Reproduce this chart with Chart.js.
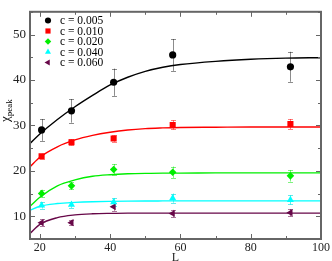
<!DOCTYPE html>
<html><head><meta charset="utf-8">
<script src="https://cdn.jsdelivr.net/npm/chart.js@4/dist/chart.umd.min.js"></script>
<style>html,body{margin:0;padding:0;background:#fff}#wrap{width:332px;height:261px;position:relative}</style>
</head><body><div id="wrap"><canvas id="c"></canvas></div>
<script>
// ---- data ----
const Lvals = [20.5, 29, 41, 57.8, 91.3];
const seriesLabels = ['c = 0.005', 'c = 0.010', 'c = 0.020', 'c = 0.040', 'c = 0.060'];
const chi005 = [29.0, 33.2, 39.5, 45.5, 42.9];
const err005 = [2.4, 2.6, 3.0, 3.5, 3.3];
const chi010 = [23.2, 26.3, 27.1, 30.1, 30.3];
const err010 = [0.6, 0.7, 0.7, 1.0, 1.1];
const chi020 = [15.0, 16.7, 20.3, 19.7, 18.9];
const err020 = [0.85, 0.8, 1.2, 1.25, 1.25];
const chi040 = [12.4, 12.55, 13.1, 14.0, 13.6];
const err040 = [0.7, 0.7, 0.9, 1.0, 1.0];
const chi060 = [8.6, 8.6, 12.1, 10.6, 10.8];
const err060 = [0.7, 0.6, 0.9, 0.8, 0.8];
const fitL   = [17.2, 20, 25, 30, 35, 40, 45, 50, 55, 60, 70, 80, 90, 100];
const fit005 = [26.0, 28.1, 31.3, 34.1, 36.6, 38.9, 40.6, 41.9, 42.8, 43.4, 44.1, 44.55, 44.8, 44.9];
const fit010 = [20.9, 23.0, 25.3, 26.8, 27.8, 28.5, 29.0, 29.3, 29.45, 29.55, 29.6, 29.65, 29.65, 29.65];
const fit020 = [12.2, 14.2, 16.7, 18.0, 18.8, 19.15, 19.35, 19.45, 19.5, 19.5, 19.55, 19.55, 19.55, 19.55];
const fit040 = [11.3, 12.2, 12.8, 13.05, 13.2, 13.28, 13.33, 13.36, 13.38, 13.4, 13.4, 13.4, 13.4, 13.4];
const fit060 = [6.2, 8.2, 9.7, 10.3, 10.55, 10.65, 10.7, 10.7, 10.7, 10.7, 10.7, 10.7, 10.7, 10.7];
const xTicks = [20, 40, 60, 80, 100];
const xMinor = [30, 50, 70, 90];
const yTicks = [10, 20, 30, 40, 50];
const yMinor = [5, 15, 25, 35, 45, 55];

const colors = ['#000000', '#ff0000', '#00ee00', '#00ffff', 'rgb(103,7,72)'];
const errColors = ['rgba(0,0,0,0.45)', 'rgba(255,0,0,0.5)', 'rgba(0,230,0,0.5)', 'rgba(0,220,220,0.6)', 'rgba(103,7,72,0.55)'];
const styles = [
  {pointStyle: 'circle', radius: 3.6, rotation: 0},
  {pointStyle: 'rect', radius: 4.3, rotation: 0},
  {pointStyle: 'rectRot', radius: 3.8, rotation: 0},
  {pointStyle: 'triangle', radius: 4.1, rotation: 0},
  {pointStyle: 'triangle', radius: 4.1, rotation: -90}
];
const pts = [chi005, chi010, chi020, chi040, chi060];
const errs = [err005, err010, err020, err040, err060];
const fits = [fit005, fit010, fit020, fit040, fit060];

const datasets = [];
fits.forEach((f, k) => datasets.push({
  label: 'fit' + k, data: fitL.map((x, i) => ({x, y: f[i]})), showLine: true,
  borderColor: colors[k], borderWidth: 1.4, pointRadius: 0, tension: 0.4,
  cubicInterpolationMode: 'monotone', order: 2
}));
pts.forEach((p, k) => datasets.push({
  label: seriesLabels[k], data: Lvals.map((x, i) => ({x, y: p[i]})), showLine: false,
  backgroundColor: colors[k], borderColor: colors[k], borderWidth: 0,
  pointStyle: styles[k].pointStyle, pointRadius: styles[k].radius, pointRotation: styles[k].rotation,
  order: 1
}));

const deco = {
  id: 'deco',
  beforeDatasetsDraw(chart) {
    const ctx = chart.ctx, xs = chart.scales.x, ys = chart.scales.y;
    ctx.save();
    ctx.lineWidth = 1;
    pts.forEach((p, k) => {
      ctx.strokeStyle = errColors[k];
      p.forEach((v, i) => {
        const x = Math.round(xs.getPixelForValue(Lvals[i])) + 0.5;
        const y1 = ys.getPixelForValue(v - errs[k][i]);
        const y2 = ys.getPixelForValue(v + errs[k][i]);
        ctx.beginPath();
        ctx.moveTo(x, y1); ctx.lineTo(x, y2);
        ctx.moveTo(x - 2.5, Math.round(y1) + 0.5); ctx.lineTo(x + 2.5, Math.round(y1) + 0.5);
        ctx.moveTo(x - 2.5, Math.round(y2) + 0.5); ctx.lineTo(x + 2.5, Math.round(y2) + 0.5);
        ctx.stroke();
      });
    });
    ctx.restore();
  },
  afterDraw(chart) {
    const ctx = chart.ctx, xs = chart.scales.x, ys = chart.scales.y, a = chart.chartArea;
    ctx.save();
    ctx.strokeStyle = '#666';
    ctx.lineWidth = 1;
    ctx.beginPath();
    const tick = (vals, len) => {
      vals.forEach(v => {
        const x = Math.round(xs.getPixelForValue(v)) + 0.5;
        ctx.moveTo(x, a.bottom); ctx.lineTo(x, a.bottom - len);
        ctx.moveTo(x, a.top); ctx.lineTo(x, a.top + len);
      });
    };
    const tickY = (vals, len) => {
      vals.forEach(v => {
        const y = Math.round(ys.getPixelForValue(v)) + 0.5;
        ctx.moveTo(a.left, y); ctx.lineTo(a.left + len, y);
        ctx.moveTo(a.right, y); ctx.lineTo(a.right - len, y);
      });
    };
    tick(xTicks, 5); tick(xMinor, 3); tickY(yTicks, 5); tickY(yMinor, 3);
    ctx.stroke();
    ctx.lineWidth = 2;
    ctx.strokeRect(a.left, a.top, a.right - a.left, a.bottom - a.top);
    // legend
    ctx.font = '11.5px "Liberation Serif", serif';
    ctx.textBaseline = 'middle';
    ctx.fillStyle = '#000';
    seriesLabels.forEach((lab, k) => {
      const y = 20.5 + k * 10.5;
      ctx.fillStyle = colors[k]; ctx.strokeStyle = colors[k];
      Chart.helpers.drawPoint(ctx, {pointStyle: styles[k].pointStyle, radius: styles[k].radius * 0.85, rotation: styles[k].rotation, borderWidth: 0}, 48, y);
      ctx.fillStyle = '#000';
      ctx.fillText(lab, 60, y + 0.5);
    });
    // y title
    ctx.translate(9, 122);
    ctx.rotate(-Math.PI / 2);
    ctx.textBaseline = 'alphabetic';
    ctx.font = '13px "Liberation Serif", serif';
    ctx.fillText('\u03c7', 0, 0);
    const w = ctx.measureText('\u03c7').width;
    ctx.font = '9px "Liberation Serif", serif';
    ctx.fillText('peak', w, 3);
    ctx.restore();
  }
};

new Chart(document.getElementById('c'), {
  type: 'scatter',
  data: {datasets},
  plugins: [deco],
  options: {
    responsive: true, maintainAspectRatio: false, animation: false,
    layout: {padding: {left: 0, right: 10, top: 2, bottom: 0}},
    plugins: {legend: {display: false}, tooltip: {enabled: false}},
    scales: {
      x: {
        type: 'linear', min: 17.2, max: 100,
        afterBuildTicks: s => { s.ticks = xTicks.map(v => ({value: v})); },
        afterFit: s => { s.height = 22; },
        grid: {display: false, drawTicks: false}, border: {display: false},
        ticks: {padding: 2, maxRotation: 0, autoSkip: false, color: '#222', font: {family: '"Liberation Serif", serif', size: 12}},
        title: {display: true, text: 'L', color: '#222', padding: 0, font: {family: '"Liberation Serif", serif', size: 12, lineHeight: 0.6}}
      },
      y: {
        type: 'linear', min: 5, max: 55,
        afterBuildTicks: s => { s.ticks = yTicks.map(v => ({value: v})); },
        afterFit: s => { s.width = 30; },
        grid: {display: false, drawTicks: false}, border: {display: false},
        ticks: {padding: 4, color: '#222', font: {family: '"Liberation Serif", serif', size: 13}}
      }
    }
  }
});
</script></body></html>
